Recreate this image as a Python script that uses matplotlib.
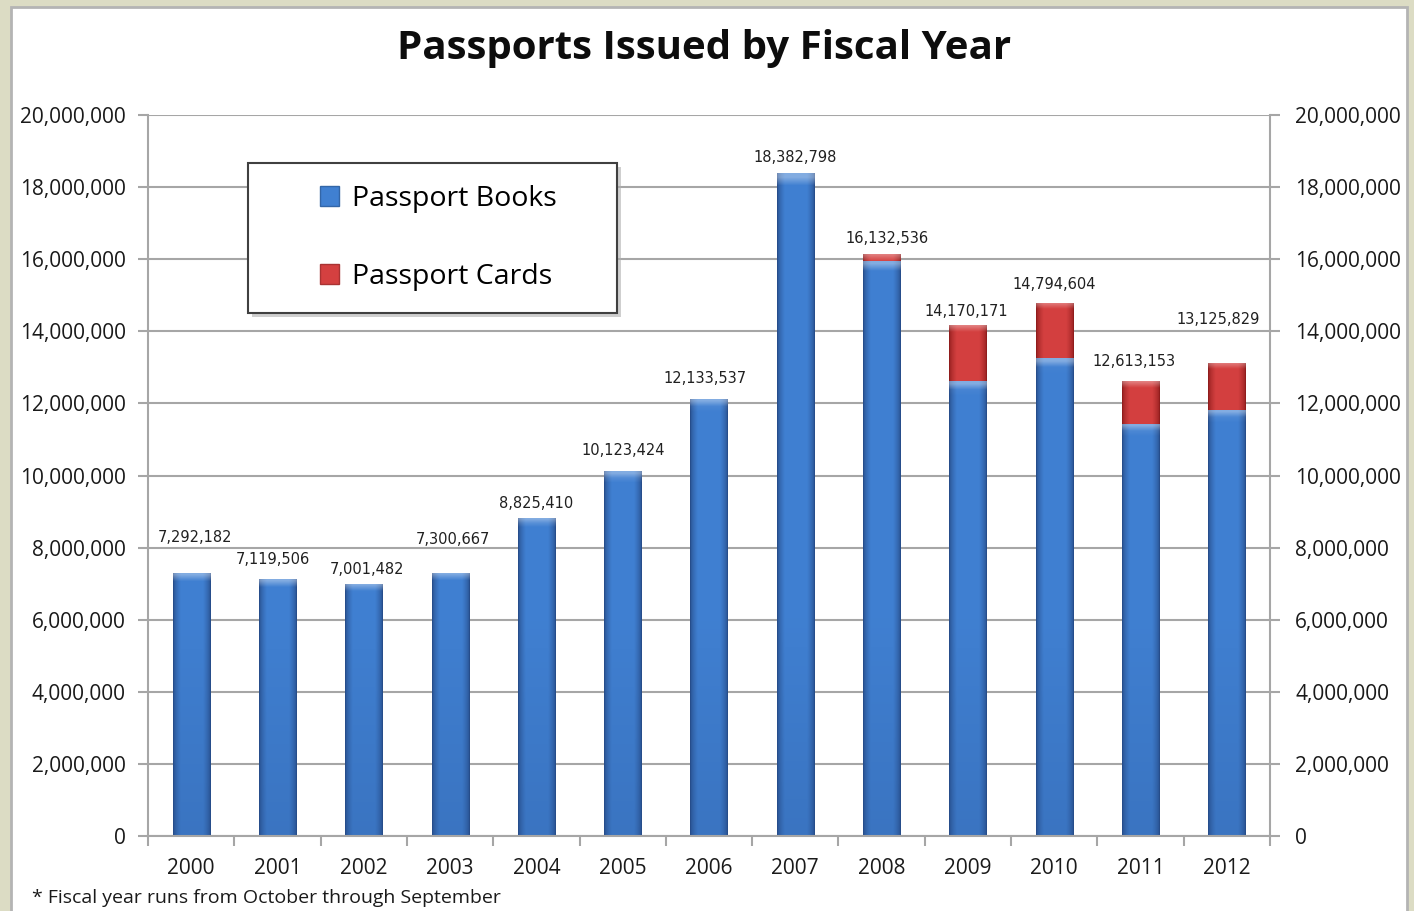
import matplotlib
matplotlib.use("Agg")
import matplotlib.pyplot as plt
import numpy as np
from matplotlib.patches import Rectangle

plt.rcParams['font.family'] = ['Open Sans', 'DejaVu Sans']

# fiscal years and issued counts
years = ['2000', '2001', '2002', '2003', '2004', '2005', '2006',
         '2007', '2008', '2009', '2010', '2011', '2012']
totals = [7292182, 7119506, 7001482, 7300667, 8825410, 10123424, 12133537,
          18382798, 16132536, 14170171, 14794604, 12613153, 13125829]
cards = [0, 0, 0, 0, 0, 0, 0,
         0, 172000, 1550000, 1545000, 1180000, 1305000]
books = [t - c for t, c in zip(totals, cards)]

# value labels were hand-placed in the original: offsets in points
label_lift = [26, 14, 10, 24, 10, 15, 14.5, 11.5, 11.5, 10, 13, 14, 31]
label_shift = [3, -3, 2, 2, 0, 0, -3, 0, 4, -1, 0, -5, -6]

blue_light, blue_dark = np.array([0.25, 0.50, 0.82]), np.array([0.15, 0.30, 0.54])
red_light, red_dark = np.array([0.83, 0.25, 0.25]), np.array([0.56, 0.11, 0.11])

fig = plt.figure(figsize=(14.14, 9.11), dpi=100)
fig.patch.set_facecolor('#dcdcc4')
# white chart area with grey frame
fig.patches.append(Rectangle((11/1414, -0.01), 1396/1414, 0.01 + 904/911,
                             transform=fig.transFigure, facecolor='white',
                             edgecolor='#b4b4b4', linewidth=2, zorder=-10))

ax = fig.add_axes([148/1414, 75/911, 1122/1414, 721/911])
ax.set_facecolor('none')
x = np.arange(len(years))
w = 0.43

b1 = ax.bar(x, books, width=w, color=blue_light, zorder=2)
b2 = ax.bar(x, cards, width=w, bottom=books, color=red_light, zorder=2)


def shade(bars, light, dark):
    # bevel-like shading: dark edges, light middle, highlight on top
    nx, ny = 40, 80
    gx = np.linspace(0, 1, nx)
    edge = np.clip(np.minimum(gx, 1 - gx) / 0.2, 0, 1) ** 0.6
    for b in bars:
        h = b.get_height()
        if h <= 0:
            continue
        x0, y0, bw = b.get_x(), b.get_y(), b.get_width()
        yy = np.linspace(y0, y0 + h, ny)
        vert = 0.78 + 0.22 * np.clip(yy / 6e6, 0, 1)
        top = np.clip(1 - (y0 + h - yy) / 1.8e5, 0, 1)
        f = edge[None, :] * vert[:, None]
        img = dark[None, None, :] + (light - dark)[None, None, :] * f[:, :, None]
        img = img + (1 - img) * 0.35 * top[:, None, None]
        img = np.clip(img, 0, 1)
        im = ax.imshow(img, origin='lower', extent=[x0, x0 + bw, y0, y0 + h],
                       aspect='auto', interpolation='bilinear', zorder=2.5)
        im.set_clip_path(b)
        b.set_alpha(0)


shade(b1, blue_light, blue_dark)
shade(b2, red_light, red_dark)

for i, t in enumerate(totals):
    ax.annotate(f'{t:,}', (x[i], t), xytext=(label_shift[i], label_lift[i]),
                textcoords='offset points', ha='center', va='center',
                fontsize=10.5, family=['DejaVu Sans'], color='#202020')

ax.set_xlim(-0.5, len(years) - 0.5)
ax.set_ylim(0, 20000000)
yt = np.arange(0, 20000001, 2000000)
ax.set_yticks(yt)
ax.set_yticklabels([f'{v:,}' for v in yt])
ax.yaxis.grid(True, color='#a6a6a6', linewidth=1.5, zorder=1)
ax.set_axisbelow(True)
ax.set_xticks(x)
ax.set_xticklabels(years)
ax.set_xticks(np.arange(-0.5, len(years)), minor=True)
ax.tick_params(axis='x', which='major', length=0, pad=16, labelsize=15,
               colors='#1a1a1a')
ax.tick_params(axis='x', which='minor', length=7, width=1.5, color='#a6a6a6')
ax.tick_params(axis='y', length=7, width=1.5, color='#a6a6a6', labelsize=15,
               labelcolor='#1a1a1a', pad=9)
for s in ['left', 'right', 'bottom']:
    ax.spines[s].set_color('#a6a6a6')
    ax.spines[s].set_linewidth(1.5)
ax.spines['top'].set_visible(False)

ax2 = ax.twinx()
ax2.set_ylim(ax.get_ylim())
ax2.set_yticks(yt)
ax2.set_yticklabels([f'{v:,}' for v in yt])
ax2.tick_params(axis='y', length=7, width=1.5, color='#a6a6a6', labelsize=15,
                labelcolor='#1a1a1a', pad=11)
for s in ax2.spines.values():
    s.set_visible(False)

# legend frame with a soft shadow, legend entries centred inside it
lx0, lx1 = (248 - 148) / 1122, (617 - 148) / 1122
ly0, ly1 = (836 - 313) / 721, (836 - 163) / 721
ax.add_patch(Rectangle((lx0 + 0.004, ly0 - 0.006), lx1 - lx0, ly1 - ly0,
                       transform=ax.transAxes, facecolor='#b0b0b0',
                       edgecolor='none', zorder=4, alpha=0.6))
ax.add_patch(Rectangle((lx0, ly0), lx1 - lx0, ly1 - ly0, transform=ax.transAxes,
                       facecolor='white', edgecolor='#404040', linewidth=1.5,
                       zorder=4.5))
leg = ax.legend([b1, b2], ['Passport Books', 'Passport Cards'],
                loc='center', bbox_to_anchor=((lx0 + lx1) / 2 + 0.005, (ly0 + ly1) / 2),
                fontsize=20.5, frameon=False, labelspacing=1.75,
                handlelength=0.68, handleheight=0.68, handletextpad=0.45,
                borderaxespad=0)
leg.set_zorder(5)
for hnd, c in zip(leg.legend_handles, [blue_light, red_light]):
    hnd.set_alpha(1)
    hnd.set_facecolor(c)
    hnd.set_edgecolor(c * 0.8)

fig.text(704/1414, 1 - 49/911, 'Passports Issued by Fiscal Year', ha='center',
         va='center', fontsize=29, fontweight='bold', color='#0d0d0d')
fig.text(32/1414, 1 - 898/911, '* Fiscal year runs from October through September',
         ha='left', va='center', fontsize=14, color='#1a1a1a')

fig.savefig('out.png', dpi=100, facecolor=fig.get_facecolor())
